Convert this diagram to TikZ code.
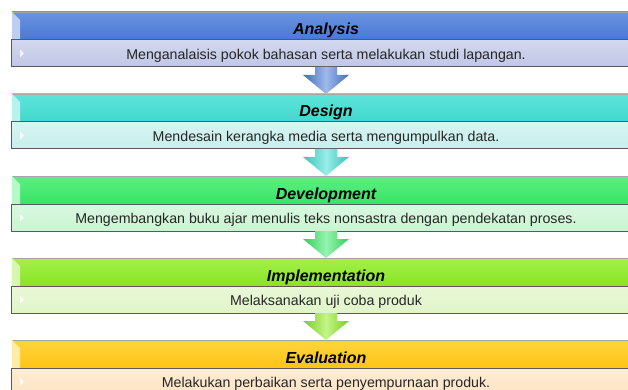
\documentclass[tikz,border=0pt]{standalone}
\usepackage{fontspec}
\setmainfont{Liberation Sans}
\usepackage{tikz}
\usetikzlibrary{positioning}
\tikzstyle{flowchart} = [x = 1pt, y = -1pt, every node/.style={inner sep = 0pt, outer sep = 0pt}]
\definecolor{analysisBar}{HTML}{4A78D2}
\definecolor{analysisTop}{HTML}{6A94E2}
\definecolor{analysisText}{HTML}{C0C7E6}
\definecolor{designBar}{HTML}{40D8CC}
\definecolor{designTop}{HTML}{5FE4DA}
\definecolor{designText}{HTML}{C6EFEC}
\definecolor{developmentBar}{HTML}{38E464}
\definecolor{developmentTop}{HTML}{5CEF84}
\definecolor{developmentText}{HTML}{C9F5D2}
\definecolor{implementationBar}{HTML}{88E424}
\definecolor{implementationTop}{HTML}{A4F04A}
\definecolor{implementationText}{HTML}{E0F5C8}
\definecolor{evaluationBar}{HTML}{FFC416}
\definecolor{evaluationTop}{HTML}{FFD43E}
\definecolor{evaluationText}{HTML}{FDE4C4}
\definecolor{barEdge}{RGB}{90,90,90}
\tikzstyle{titleBar} = [minimum width = 628pt, minimum height = 28pt, text height = 18pt, text depth = 0pt, font = \fontsize{16}{18}\selectfont\bfseries\itshape, draw = black!35, line width = .6pt]
\tikzstyle{textBar} = [minimum width = 630pt, minimum height = 27pt, text height = 12pt, text depth = 0pt, font = \fontsize{14.2}{16}\selectfont, text = black!85, draw = barEdge, line width = 1pt]
\tikzstyle{flowArrow} = [draw = none]
\newcommand{\stageBars}[5]{
  \node [titleBar, top color = #3Top, bottom color = #3Bar, #2] (#1Title) {#4};
  \fill [#3Top!45!white] (#1Title.north west) -- ++(8,8) -- ([xshift = 8pt]#1Title.south west) -- (#1Title.south west) -- cycle;
  \node [textBar, top color = #3Text!70!white, bottom color = #3Text, below = 0pt of #1Title] (#1Text) {#5};
  \fill [white, opacity = .8] ([xshift = 9pt, yshift = 4pt]#1Text.west) -- ([xshift = 13pt]#1Text.west) -- ([xshift = 9pt, yshift = -4pt]#1Text.west) -- cycle;
}
\newcommand{\stageArrow}[3]{
  \path [flowArrow, left color = #3Bar!90!black, right color = #3Bar!90!black, middle color = #3Top!65!white]
    ([xshift = -11pt]#1Text.south) -- ([xshift = 11pt]#1Text.south) -- ([xshift = 11pt, yshift = -8pt]#1Text.south)
    -- ([xshift = 23pt, yshift = -8pt]#1Text.south) -- (#2Title.north)
    -- ([xshift = -23pt, yshift = -8pt]#1Text.south) -- ([xshift = -11pt, yshift = -8pt]#1Text.south) -- cycle;
}

\begin{document}
\begin{tikzpicture}[flowchart]
  \useasboundingbox (0,0) rectangle (628,390);
  \clip (0,0) rectangle (628,390);
  \stageBars{analysis}{anchor = north west, at = {(12,12)}}{analysis}{Analysis}{Menganalaisis pokok bahasan serta melakukan studi lapangan.}
  \stageBars{design}{below = 27pt of analysisText}{design}{Design}{Mendesain kerangka media serta mengumpulkan data.}
  \stageBars{development}{below = 27pt of designText}{development}{Development}{Mengembangkan buku ajar menulis teks nonsastra dengan pendekatan proses.}
  \stageBars{implementation}{below = 27pt of developmentText}{implementation}{Implementation}{Melaksanakan uji coba produk}
  \stageBars{evaluation}{below = 27pt of implementationText}{evaluation}{Evaluation}{Melakukan perbaikan serta penyempurnaan produk.}
  % arrows between the stages
  \stageArrow{analysis}{design}{analysis}
  \stageArrow{design}{development}{design}
  \stageArrow{development}{implementation}{development}
  \stageArrow{implementation}{evaluation}{implementation}
\end{tikzpicture}
\end{document}
